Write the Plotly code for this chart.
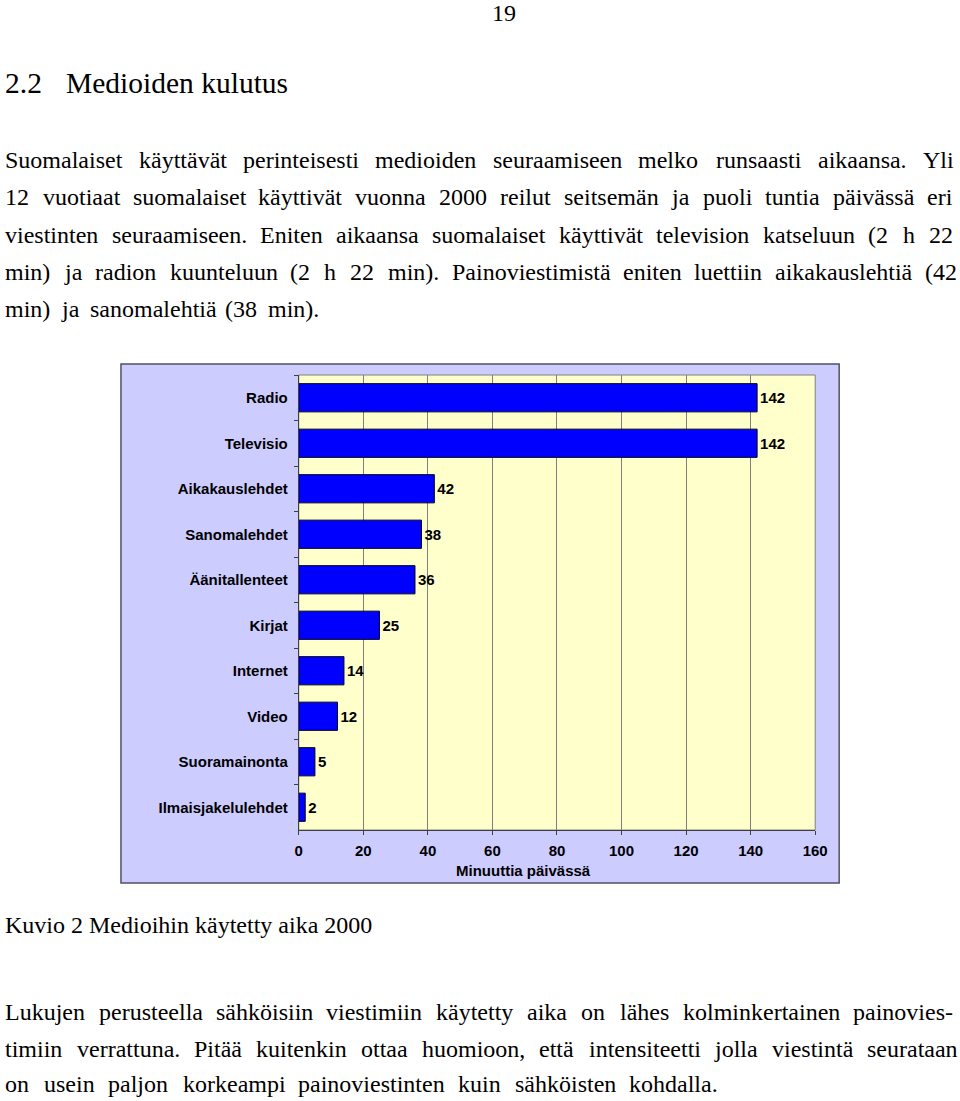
import plotly.graph_objects as go

categories = ["Radio", "Televisio", "Aikakauslehdet", "Sanomalehdet", "Äänitallenteet",
              "Kirjat", "Internet", "Video", "Suoramainonta", "Ilmaisjakelulehdet"]
minutes = [142, 142, 42, 38, 36, 25, 14, 12, 5, 2]
x_ticks = [0, 20, 40, 60, 80, 100, 120, 140, 160]
x_title = "Minuuttia päivässä"

page_number = "19"
heading_num = "2.2"
heading_text = "Medioiden kulutus"
para1 = [
    "Suomalaiset käyttävät perinteisesti medioiden seuraamiseen melko runsaasti aikaansa. Yli",
    "12 vuotiaat suomalaiset käyttivät vuonna 2000 reilut seitsemän ja puoli tuntia päivässä eri",
    "viestinten seuraamiseen. Eniten aikaansa suomalaiset käyttivät television katseluun (2 h 22",
    "min) ja radion kuunteluun (2 h 22 min). Painoviestimistä eniten luettiin aikakauslehtiä (42",
    "min) ja sanomalehtiä (38 min).",
]
caption = "Kuvio 2 Medioihin käytetty aika 2000"
para2 = [
    "Lukujen perusteella sähköisiin viestimiin käytetty aika on lähes kolminkertainen painovies-",
    "timiin verrattuna. Pitää kuitenkin ottaa huomioon, että intensiteetti jolla viestintä seurataan",
    "on usein paljon korkeampi painoviestinten kuin sähköisten kohdalla.",
]

# the captured picture is slightly narrower than the page; compensate horizontally
SX, OX = 0.9836, 3.9
W, H = 972, 1101

def X(x):
    return max((x - OX) / SX, 0.0)

def px(x):
    return X(x) / W

def py(y):
    return 1 - y / H

# Times (Liberation Serif) advance widths per 1000 em, used to justify lines
TW = {" ": 250, "(": 333, ")": 333, ",": 250, "-": 333, ".": 250, ":": 278}
for d in "0123456789":
    TW[d] = 500
TW.update(dict(A=722, B=667, C=667, D=722, E=611, F=556, G=722, H=722, I=333, J=389, K=722,
               L=611, M=889, N=722, O=722, P=556, Q=722, R=667, S=556, T=611, U=722, V=722,
               W=944, X=722, Y=722, Z=611))
TW.update(dict(a=444, b=500, c=444, d=500, e=444, f=333, g=500, h=500, i=278, j=278, k=500,
               l=278, m=778, n=500, o=500, p=500, q=500, r=333, s=389, t=278, u=500, v=500,
               w=722, x=500, y=500, z=444))
TW.update({"ä": 444, "ö": 500, "Ä": 722, "Ö": 722})

def text_width(s, size):
    return sum(TW.get(c, 500) for c in s) * size / 1000.0

serif = "Liberation Serif"
sans = "Liberation Sans"
ann = []

def add_text_page(text, xp, y, size, family=serif, xanchor="left", weight="normal"):
    ann.append(dict(text=text, x=xp / W, y=py(y), xanchor=xanchor, yanchor="middle",
                    xref="paper", yref="paper", showarrow=False, borderpad=0,
                    font=dict(family=family, size=size, color="black", weight=weight)))

def add_text(text, x, y, size, **kw):
    add_text_page(text, X(x), y, size, **kw)

def add_justified(line, y, left, right, size=24):
    words = line.split(" ")
    widths = [text_width(w, size) for w in words]
    l, r = X(left), X(right)
    gap = (r - l - sum(widths)) / max(len(words) - 1, 1)
    x = l
    for w, wd in zip(words, widths):
        add_text_page(w, x, y, size)
        x += wd + gap

add_text(page_number, 504, 13, 24, xanchor="center")
add_text(heading_num, 2, 83, 29.5)
add_text(heading_text, 65, 83, 29.5)

p1_y = [160, 197, 235, 272, 309]
p1_right = [953, 952, 953, 956, 318]
for line, y, r in zip(para1, p1_y, p1_right):
    add_justified(line, y, 2, r)

add_text(caption, 2, 925, 24)

p2_y = [1012, 1049, 1084]
p2_right = [951, 956, 716]
for line, y, r in zip(para2, p2_y, p2_right):
    add_justified(line, y, 2, r)

add_text(x_title, 524, 870, 15, family=sans, xanchor="center", weight="bold")

PL, PR, PT, PB = 299, 816, 375, 830
BL, BR, BT, BB = 121, 840, 364, 883

shapes = [
    dict(type="rect", xref="paper", yref="paper", x0=px(BL), x1=px(BR), y0=py(BB), y1=py(BT),
         fillcolor="#ccccff", line=dict(color="#505068", width=1.5), layer="below"),
    dict(type="rect", xref="paper", yref="paper", x0=px(PL), x1=px(PR), y0=py(PB), y1=py(PT),
         fillcolor="#ffffcc", line=dict(color="#808080", width=1), layer="below"),
]

fig = go.Figure()
fig.add_trace(go.Bar(
    y=categories, x=minutes, orientation="h",
    marker=dict(color="#0000ff", line=dict(color="#000022", width=1)),
    text=minutes, textposition="outside", texttemplate="%{x}",
    textfont=dict(family=sans, size=15, color="black", weight="bold"),
    cliponaxis=False,
))

fig.update_layout(
    width=W, height=H,
    margin=dict(l=0, r=0, t=0, b=0),
    paper_bgcolor="white", plot_bgcolor="rgba(0,0,0,0)",
    showlegend=False, bargap=0.38,
    annotations=ann, shapes=shapes,
    xaxis=dict(domain=[px(PL), px(PR)], range=[0, 160], tickvals=x_ticks,
               showgrid=True, gridcolor="#808080", gridwidth=1, zeroline=False,
               showline=True, linecolor="#404040", linewidth=1,
               ticks="outside", ticklen=4, tickcolor="#404040", ticklabelstandoff=3,
               tickfont=dict(family=sans, size=15, color="black", weight="bold")),
    yaxis=dict(domain=[py(PB), py(PT)], autorange="reversed", type="category",
               showgrid=False, zeroline=False,
               showline=True, linecolor="#404040", linewidth=1,
               ticks="outside", ticklen=4, tickcolor="#404040", tickson="boundaries",
               ticklabelstandoff=7,
               tickfont=dict(family=sans, size=15, color="black", weight="bold")),
)

# remove the browser's default page margin so the figure starts at the window's corner
fig.write_html("out.html", config={"displayModeBar": False},
               post_script="document.body.style.margin='0';document.body.style.overflow='hidden';")
